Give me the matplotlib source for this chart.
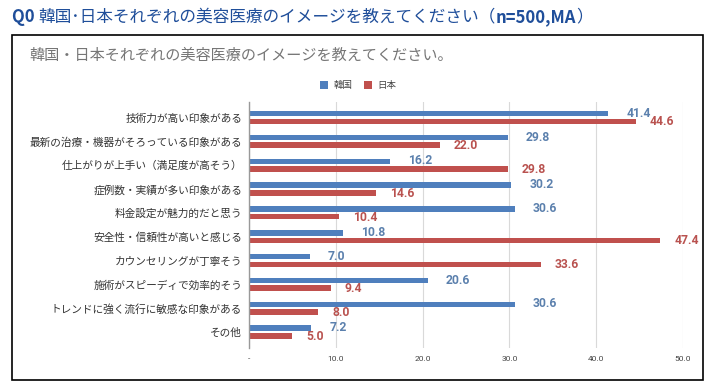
import matplotlib
matplotlib.use("Agg")
import matplotlib.pyplot as plt
from matplotlib.patches import Rectangle, Patch

plt.rcParams['font.family'] = ['Noto Sans CJK JP', 'DejaVu Sans']

categories = ['技術力が高い印象がある', '最新の治療・機器がそろっている印象がある', '仕上がりが上手い（満足度が高そう）',
              '症例数・実績が多い印象がある', '料金設定が魅力的だと思う', '安全性・信頼性が高いと感じる',
              'カウンセリングが丁寧そう', '施術がスピーディで効率的そう', 'トレンドに強く流行に敏感な印象がある', 'その他']
korea = [41.4, 29.8, 16.2, 30.2, 30.6, 10.8, 7.0, 20.6, 30.6, 7.2]
japan = [44.6, 22.0, 29.8, 14.6, 10.4, 47.4, 33.6, 9.4, 8.0, 5.0]
series_names = ['韓国', '日本']
xticks = [0, 10, 20, 30, 40, 50]
xtick_labels = ['-', '10.0', '20.0', '30.0', '40.0', '50.0']

blue = '#4f7fbd'
red = '#c0504d'
blue_txt = '#5b80ad'
red_txt = '#b9524f'

W, H = 712, 391
fig = plt.figure(figsize=(W / 100, H / 100), dpi=100)

# 外枠
fig.patches.append(Rectangle((12 / W, 1 - 380 / H), (703 - 12) / W, (380 - 35) / H,
                             transform=fig.transFigure, fill=False, edgecolor='black', linewidth=1.2))

# メインタイトル (部分ごとに太字を切り替え)
renderer = fig.canvas.get_renderer()
title_parts = [('Q0 ', 'bold'), ('韓国･日本それぞれの美容医療のイメージを教えてください（', 'normal'),
               ('n=500,MA', 'bold'), ('）', 'normal')]
x0 = 12
for s, w in title_parts:
    t = fig.text(x0 / W, 1 - 17 / H, s, fontsize=12, fontweight=w, color='#1f4e9a', va='center', ha='left')
    x0 = fig.transFigure.inverted().transform((t.get_window_extent(renderer).x1, 0))[0] * W

fig.text(29 / W, 1 - 55 / H, '韓国・日本それぞれの美容医療のイメージを教えてください。',
         fontsize=10.9, color='#767676', va='center', ha='left')

ax = fig.add_axes([249 / W, 1 - 348 / H, (683 - 249) / W, (348 - 102) / H])

y = list(range(len(categories)))
h = 0.23
off = 0.16
ax.barh([v - off for v in y], korea, height=h, color=blue, zorder=3)
ax.barh([v + off for v in y], japan, height=h, color=red, zorder=3)

for i in y:
    ax.annotate(f'{korea[i]:.1f}', (korea[i], i - off - 0.02), xytext=(13, 0), textcoords='offset points',
                ha='left', va='center', fontsize=8.7, fontweight='bold', color=blue_txt,
                family=['Roboto', 'DejaVu Sans'])
    ax.annotate(f'{japan[i]:.1f}', (japan[i], i + off + 0.02), xytext=(10, 0), textcoords='offset points',
                ha='left', va='center', fontsize=8.7, fontweight='bold', color=red_txt,
                family=['Roboto', 'DejaVu Sans'])

ax.set_xlim(0, 50)
ax.set_ylim(9.67, -0.65)
ax.set_yticks(y)
ax.set_yticklabels(categories, fontsize=7.7, color='#333333')
ax.set_xticks(xticks)
ax.set_xticklabels(xtick_labels, fontsize=6, color='#444444', family=['Roboto', 'DejaVu Sans'])
ax.tick_params(length=0, pad=5)
ax.tick_params(axis='x', pad=6)
ax.grid(axis='x', color='#d9d9d9', linewidth=0.8, zorder=0)
for s in ['top', 'right', 'bottom']:
    ax.spines[s].set_visible(False)
ax.spines['left'].set_color('#999999')
ax.spines['left'].set_linewidth(1.0)
ax.spines['left'].set_zorder(4)

handles = [Patch(facecolor=blue), Patch(facecolor=red)]
fig.legend(handles, series_names, loc='center', bbox_to_anchor=(358 / W, 1 - 85.5 / H), ncol=2,
           frameon=False, fontsize=6.8, handlelength=0.85, handleheight=0.85, handletextpad=0.6,
           columnspacing=1.2, labelcolor='#444444')

fig.savefig('out.png', dpi=100)
